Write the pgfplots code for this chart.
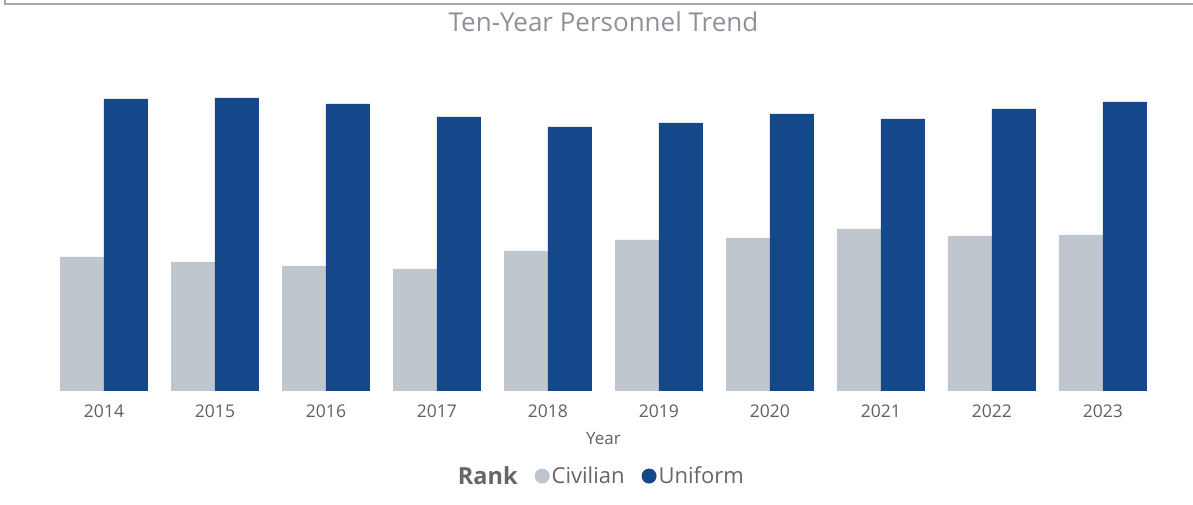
\documentclass[border=0pt]{standalone}
\usepackage{pgfplots}
\pgfplotsset{compat=1.18}
\usepackage{fontspec}
\setmainfont{Open Sans}
\definecolor{civ}{HTML}{C0C6CE}
\definecolor{uni}{HTML}{15488A}
\definecolor{titlegray}{HTML}{8E9298}
\definecolor{tickgray}{HTML}{606060}
\definecolor{leggray}{HTML}{666666}
\definecolor{framegray}{HTML}{A6A6A6}
\begin{document}
\begin{tikzpicture}[x=1pt,y=1pt]
\useasboundingbox (0,0) rectangle (1193,505);
\draw[framegray, line width=2pt] (5,506) -- (5,501) -- (1194,501);
\begin{axis}[
  at={(48.5pt,114pt)}, anchor=south west,
  scale only axis, width=1110pt, height=331pt,
  ybar=0pt, bar width=0.396,
  xmin=-0.5, xmax=9.5, ymin=0, ymax=3310,
  enlarge x limits=false,
  hide y axis,
  axis x line*=bottom,
  x axis line style={draw=none},
  xtick={0,...,9},
  xticklabels={2014,2015,2016,2017,2018,2019,2020,2021,2022,2023},
  xtick style={draw=none},
  /pgf/number format/assume math mode=true,
  xticklabel style={font=\fontsize{17.5}{20}\selectfont, text=tickgray, yshift=-6pt},
  xlabel={Year},
  xlabel style={font=\fontsize{17}{20}\selectfont, text=tickgray, at={(axis description cs:0.5,-0.145)}, anchor=center},
  title={Ten-Year Personnel Trend},
  title style={font=\fontsize{26}{30}\selectfont, text=titlegray, at={(axis description cs:0.5,1.097)}, anchor=center},
  legend columns=3,
  legend style={at={(axis description cs:0.4977,-0.257)}, anchor=center, draw=none,
    font=\fontsize{22}{26}\selectfont, text=leggray,
    nodes={inner xsep=2pt},
    /tikz/every even column/.append style={column sep=15pt}},
]
\addlegendimage{empty legend}
\addlegendentry{\fontsize{23.5}{26}\selectfont\textbf{Rank}}
\addplot[fill=civ, draw=none, legend image code/.code={\fill[civ] (7.5pt,0pt) circle (7.5pt);}] coordinates {
(0,1340) (1,1290) (2,1250) (3,1220) (4,1400) (5,1510) (6,1530) (7,1620) (8,1550) (9,1560)};
\addlegendentry{Civilian}
\addplot[fill=uni, draw=none, legend image code/.code={\fill[uni] (7.5pt,0pt) circle (7.5pt);}] coordinates {
(0,2920) (1,2930) (2,2870) (3,2740) (4,2640) (5,2680) (6,2770) (7,2720) (8,2820) (9,2890)};
\addlegendentry{Uniform}
\end{axis}
\end{tikzpicture}
\end{document}
